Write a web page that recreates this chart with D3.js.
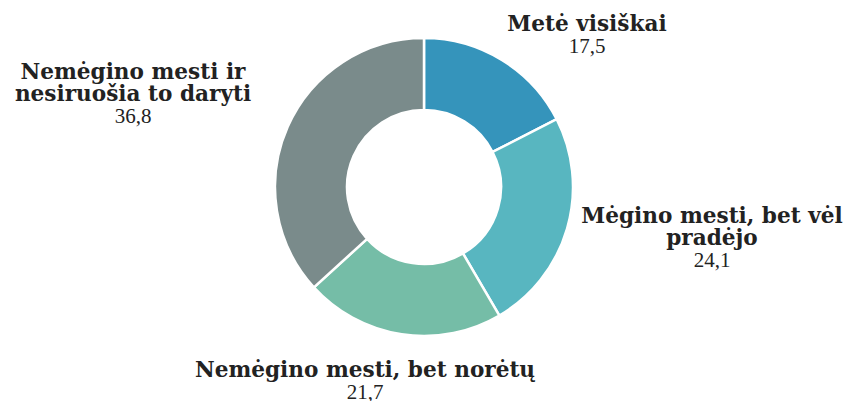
<!DOCTYPE html>
<html><head><meta charset="utf-8">
<script src="https://cdn.jsdelivr.net/npm/d3@7"></script>
<style>body{margin:0;background:#fff}</style>
</head><body>
<svg id="chart" width="845" height="401"></svg>
<script>
const categories = ["Metė visiškai", "Mėgino mesti, bet vėl pradėjo", "Nemėgino mesti, bet norėtų", "Nemėgino mesti ir nesiruošia to daryti"];
const labelLines = [["Metė visiškai"], ["Mėgino mesti, bet vėl", "pradėjo"], ["Nemėgino mesti, bet norėtų"], ["Nemėgino mesti ir", "nesiruošia to daryti"]];
const values = [17.5, 24.1, 21.7, 36.8];
const valueLabels = ["17,5", "24,1", "21,7", "36,8"];
const colors = ["#3594bb", "#58b6c0", "#75bda7", "#7a8b8b"];

const svg = d3.select("#chart");
const cx = 424, cy = 187, rOuter = 149, rInner = 77;
const g = svg.append("g").attr("transform", `translate(${cx},${cy})`);
const pie = d3.pie().sort(null).value(d => d)(values);
const arc = d3.arc().innerRadius(rInner).outerRadius(rOuter);
g.selectAll("path").data(pie).join("path")
  .attr("d", arc).attr("fill", (d, i) => colors[i])
  .attr("stroke", "#fff").attr("stroke-width", 2.5);

// label anchor positions (center x, first baseline y)
const labelPos = [[587, 31], [712, 223], [365, 377], [133, 79]];
const lh = 22;
labelPos.forEach((p, i) => {
  const t = svg.append("text").attr("text-anchor", "middle").attr("fill", "#222");
  labelLines[i].forEach((ln, j) => {
    t.append("tspan").attr("x", p[0]).attr("y", p[1] + j * lh)
      .attr("font-family", "DejaVu Serif").attr("font-weight", "bold").attr("font-size", 21.6).text(ln);
  });
  t.append("tspan").attr("x", p[0]).attr("y", p[1] + labelLines[i].length * lh)
    .attr("font-family", "Liberation Serif").attr("font-size", 21).text(valueLabels[i]);
});
</script>
</body></html>
